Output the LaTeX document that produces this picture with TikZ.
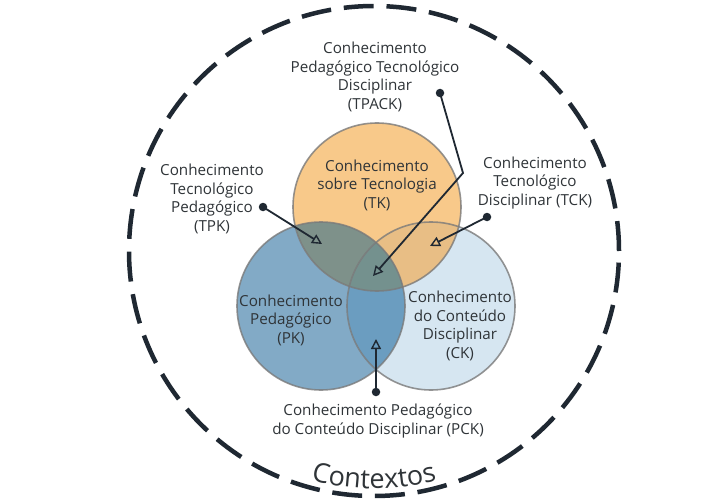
\documentclass[tikz,border=0pt]{standalone}
\usepackage{fontspec}
\setmainfont{Open Sans}
\usetikzlibrary{arrows.meta,decorations.text}
\definecolor{tkfill}{HTML}{F8C98A}
\definecolor{pkfill}{HTML}{82AAC6}
\definecolor{ckfill}{HTML}{D6E6F1}
\definecolor{tpfill}{HTML}{7E918A}
\definecolor{tcfill}{HTML}{E8BE85}
\definecolor{pcfill}{HTML}{6B9DC0}
\definecolor{allfill}{HTML}{74918E}
\definecolor{txt}{HTML}{2F3438}
\definecolor{ink}{HTML}{1F2832}
\definecolor{rim}{HTML}{7A7A7A}
\begin{document}
\begin{tikzpicture}[x=1pt,y=-1pt,
  lbl/.style={font=\fontsize{15.2}{18.5}\selectfont, text=txt, align=center, inner sep=0pt},
  ptr/.style={draw=ink, line width=1.8pt, -{Triangle[open, length=10pt, width=10pt, line width=1.4pt]}},
  dotnode/.style={circle, fill=ink, inner sep=0pt, minimum size=8.5pt},
  venn/.style={circle, minimum size=168pt, inner sep=0pt, draw=rim, draw opacity=0.8, line width=1.6pt},
  ctxring/.style={circle, minimum size=490pt, inner sep=0pt, draw=ink, line width=4.5pt, dash pattern=on 30pt off 12.8pt}]
\useasboundingbox (0,0) rectangle (723,500);
\fill[white] (0,0) rectangle (723,500);
% centres
\coordinate (tkc) at (377,207);
\coordinate (pkc) at (321,306);
\coordinate (ckc) at (431,306);
% fills
\fill[pkfill] (pkc) circle[radius=84pt];
\fill[ckfill] (ckc) circle[radius=84pt];
\fill[tkfill] (tkc) circle[radius=84pt];
\begin{scope}
  \clip (tkc) circle[radius=84pt];
  \fill[tpfill] (pkc) circle[radius=84pt];
  \fill[tcfill] (ckc) circle[radius=84pt];
\end{scope}
\begin{scope}
  \clip (pkc) circle[radius=84pt];
  \fill[pcfill] (ckc) circle[radius=84pt];
  \clip (ckc) circle[radius=84pt];
  \fill[allfill] (tkc) circle[radius=84pt];
\end{scope}
% outlines
\node[venn] (PK) at (pkc) {};
\node[venn] (CK) at (ckc) {};
\node[venn] (TK) at (tkc) {};
% context ring
\node[ctxring] (ctx) at (374,251) {};
\path[decorate, decoration={text along path, text align=center,
  text={|\fontsize{27}{32}\selectfont\color{txt}|Contextos}}]
  (250.5,456.2) .. controls (331.2,499.6) and (416.8,499.6) .. (497.5,456.2);
% circle labels
\node[lbl] (tkl) at (377,185) {Conhecimento\\sobre Tecnologia\\(TK)};
\node[lbl] (pkl) at (291,320) {Conhecimento\\Pedagógico\\(PK)};
\node[lbl] (ckl) at (460,326) {Conhecimento\\do Conteúdo\\Disciplinar\\(CK)};
% outer labels
\node[lbl] (tpackl) at (375,77) {Conhecimento\\Pedagógico Tecnológico\\Disciplinar\\(TPACK)};
\node[lbl] (tpkl) at (212,199) {Conhecimento\\Tecnológico\\Pedagógico\\(TPK)};
\node[lbl] (tckl) at (535,183) {Conhecimento\\Tecnológico\\Disciplinar (TCK)};
\node[lbl] (pckl) at (378,421) {Conhecimento Pedagógico\\do Conteúdo Disciplinar (PCK)};
% pointers
\node[dotnode] (dtpack) at (440,93) {};
\node[dotnode] (dtpk) at (263,207) {};
\node[dotnode] (dtck) at (487,217) {};
\node[dotnode] (dpck) at (376,392) {};
\coordinate (btpack) at (463,173);
\coordinate (ttpack) at (373,276);
\coordinate (ttpk) at (322,244);
\coordinate (ttck) at (430,246);
\coordinate (tpck) at (376,339);
\draw[ptr] (dtpack.center) -- (btpack) -- (ttpack);
\draw[ptr] (dtpk.center) -- (ttpk);
\draw[ptr] (dtck.center) -- (ttck);
\draw[ptr] (dpck.center) -- (tpck);
\end{tikzpicture}
\end{document}
